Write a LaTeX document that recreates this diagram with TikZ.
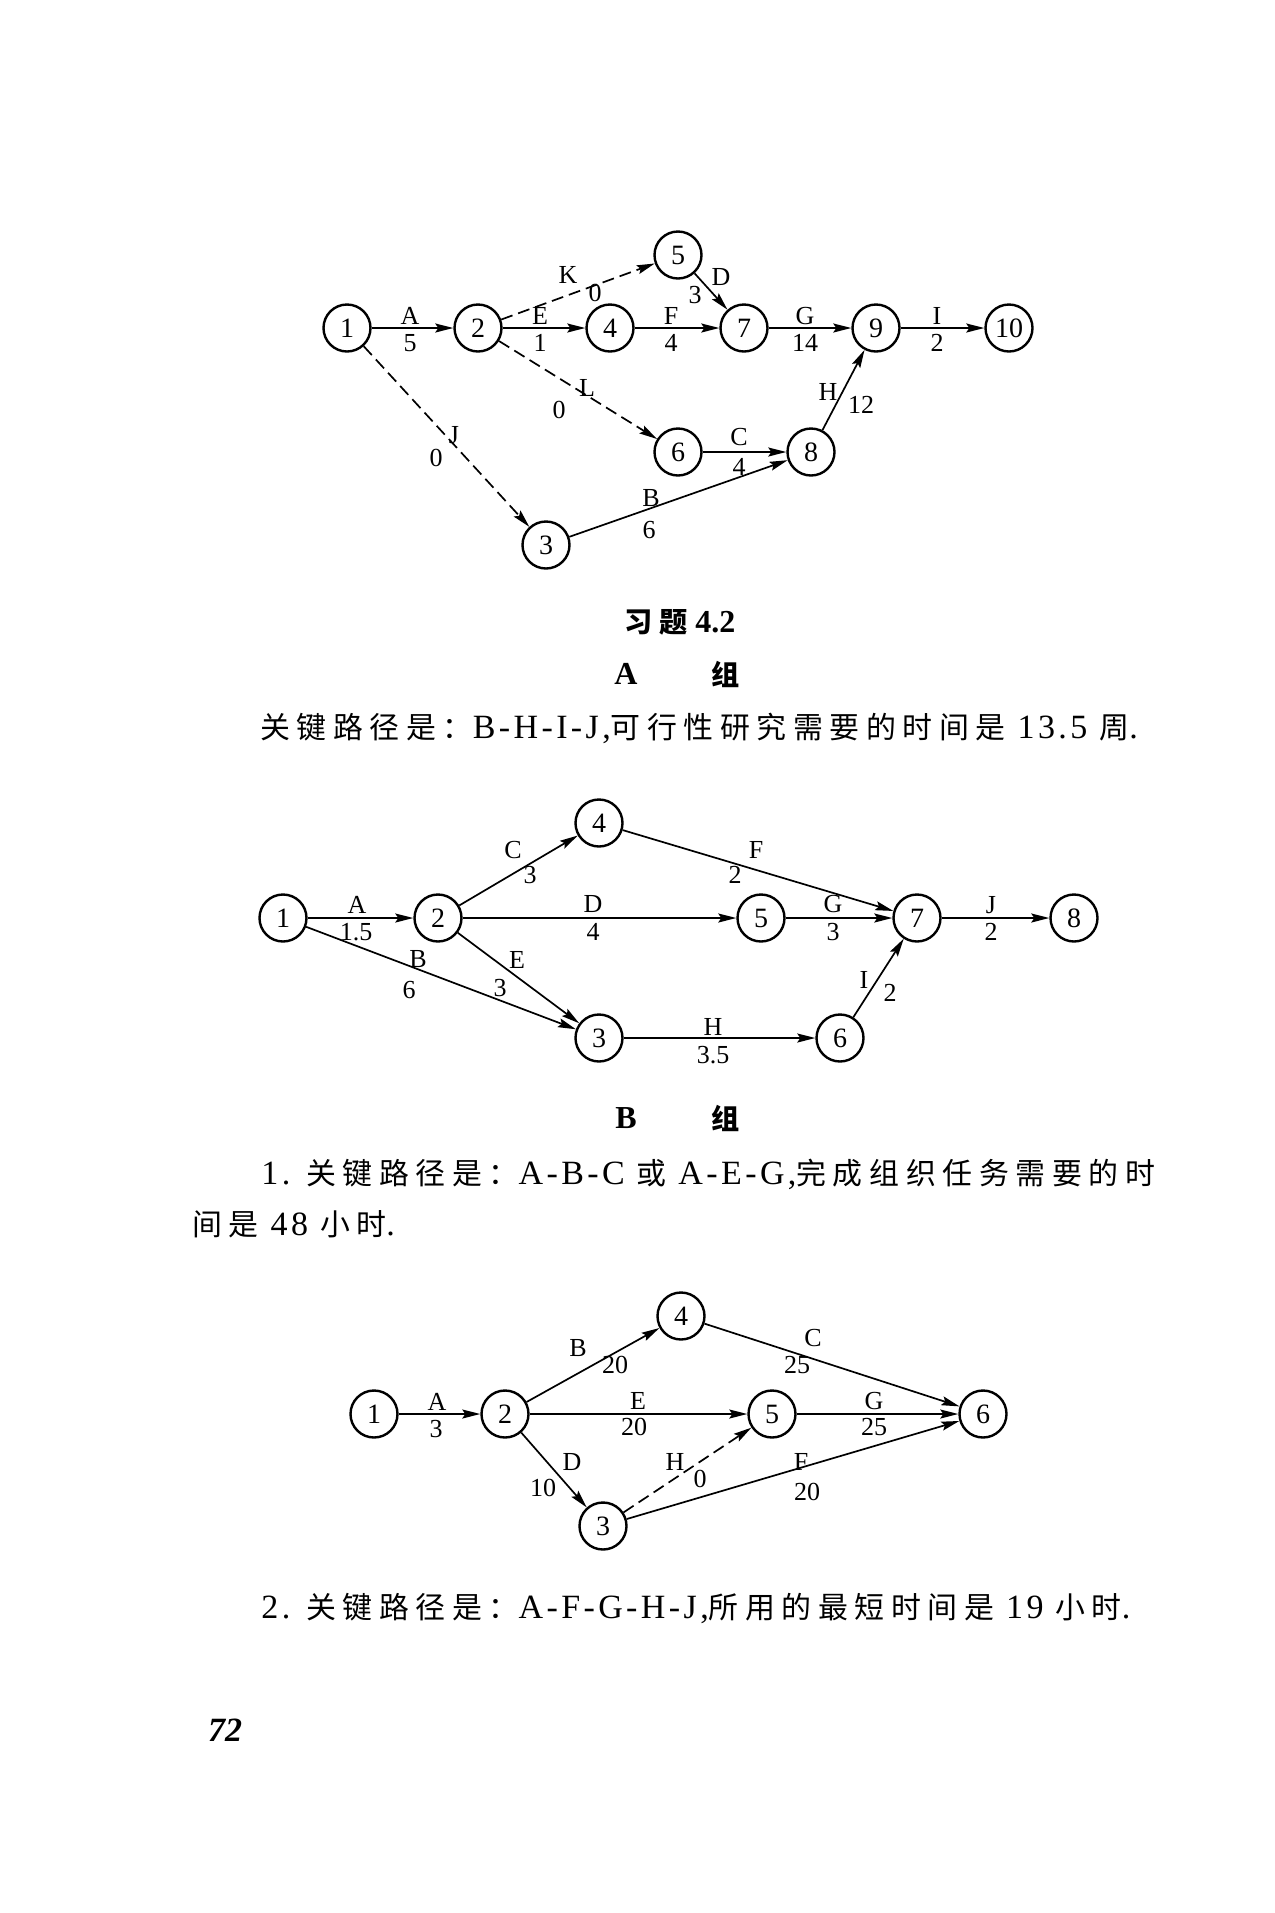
\documentclass[tikz,border=0pt]{standalone}
\usepackage{fontspec}
\setmainfont{Liberation Serif}
\newfontfamily\zhfont[Scale=0.88,LetterSpace=22]{Noto Sans CJK SC}
\newfontfamily\latsp[LetterSpace=10]{Liberation Serif}
\newcommand{\zh}[1]{{\zhfont #1}}
\usetikzlibrary{arrows.meta}

\begin{document}
\begin{tikzpicture}[x=0.5pt,y=-0.5pt,
  vtx/.style={draw,circle,line width=1.2pt,minimum size=23.5pt,inner sep=0pt,font=\fontsize{14}{14}\selectfont},
  lab/.style={inner sep=0pt,font=\fontsize{13}{13}\selectfont},
  arr/.style={line width=0.85pt,-{Stealth[length=9pt,width=4.5pt,inset=1.5pt]}},
  dum/.style={arr,dash pattern=on 6pt off 3pt},
  txt/.style={inner sep=0pt,anchor=west,font=\fontsize{17}{17}\selectfont\latsp},
  head/.style={inner sep=0pt,font=\fontsize{16}{16}\selectfont\bfseries}]
  \useasboundingbox (0,0) rectangle (1275,1913);

  % first network
  \foreach \n/\x/\y in {1/347/328,2/478/328,4/610/328,7/744/328,9/876/328,10/1009/328,5/678/255,6/678/452,8/811/452,3/546/545}
    \node[vtx] (a\n) at (\x,\y) {\n};
  \foreach \s/\t in {1/2,2/4,4/7,7/9,9/10,5/7,6/8,3/8,8/9} \draw[arr] (a\s) -- (a\t);
  \foreach \s/\t in {2/5,2/6,1/3} \draw[dum] (a\s) -- (a\t);
  \foreach \x/\y/\t [count=\i] in {410/316/A,410/343/5,540/316/E,540/343/1,671/316/F,671/343/4,
      805/316/G,805/343/14,937/316/I,937/343/2,568/275/K,595/293/0,721/277/D,695/295/3,
      587/388/L,559/410/0,454/435/J,436/458/0,739/437/C,739/467/4,651/498/B,649/530/6,
      828/392/H,861/405/12}
    \node[lab] (la\i) at (\x,\y) {\t};

  \node[head] (title) at (680,622) {\zh{习题} 4.2};
  \node[head] (grpA) at (626,674) {A};
  \node[head] (grpAz) at (726,674) {\zh{组}};
  \node[txt] (line1) at (260,728) {\zh{关键路径是：}B-H-I-J,\zh{可行性研究需要的时间是} 13.5 \zh{周}.};

  % second network
  \foreach \n/\x/\y in {1/283/918,2/438/918,4/599/823,5/761/918,7/917/918,8/1074/918,3/599/1038,6/840/1038}
    \node[vtx] (b\n) at (\x,\y) {\n};
  \foreach \s/\t in {1/2,2/4,4/7,2/5,5/7,7/8,1/3,2/3,3/6,6/7} \draw[arr] (b\s) -- (b\t);
  \foreach \x/\y/\t [count=\i] in {357/905/A,356/932/1.5,513/850/C,530/875/3,756/850/F,735/875/2,
      593/904/D,593/932/4,833/904/G,833/932/3,991/905/J,991/932/2,418/959/B,409/990/6,
      517/960/E,500/988/3,713/1027/H,713/1055/3.5,864/980/I,890/993/2}
    \node[lab] (lb\i) at (\x,\y) {\t};

  \node[head] (grpB) at (626,1118) {B};
  \node[head] (grpBz) at (726,1118) {\zh{组}};
  \node[txt] (line2) at (261,1174) {1. \zh{关键路径是：}A-B-C \zh{或} A-E-G,\zh{完成组织任务需要的时}};
  \node[txt] (line3) at (192,1224) {\zh{间是} 48 \zh{小时}.};

  % third network
  \foreach \n/\x/\y in {1/374/1414,2/505/1414,4/681/1316,5/772/1414,6/983/1414,3/603/1526}
    \node[vtx] (c\n) at (\x,\y) {\n};
  \foreach \s/\t in {1/2,2/4,4/6,2/5,5/6,2/3,3/6} \draw[arr] (c\s) -- (c\t);
  \draw[dum] (c3) -- (c5);
  \foreach \x/\y/\t [count=\i] in {437/1402/A,436/1429/3,578/1348/B,615/1365/20,813/1338/C,797/1365/25,
      638/1401/E,634/1427/20,874/1401/G,874/1427/25,572/1462/D,543/1488/10,675/1462/H,700/1479/0,
      801/1462/F,807/1492/20}
    \node[lab] (lc\i) at (\x,\y) {\t};

  \node[txt] (line4) at (261,1608) {2. \zh{关键路径是：}A-F-G-H-J,\zh{所用的最短时间是} 19 \zh{小时}.};
  \node[inner sep=0pt,font=\fontsize{17}{17}\selectfont\bfseries\itshape] (pageno) at (225,1730) {72};
\end{tikzpicture}
\end{document}
